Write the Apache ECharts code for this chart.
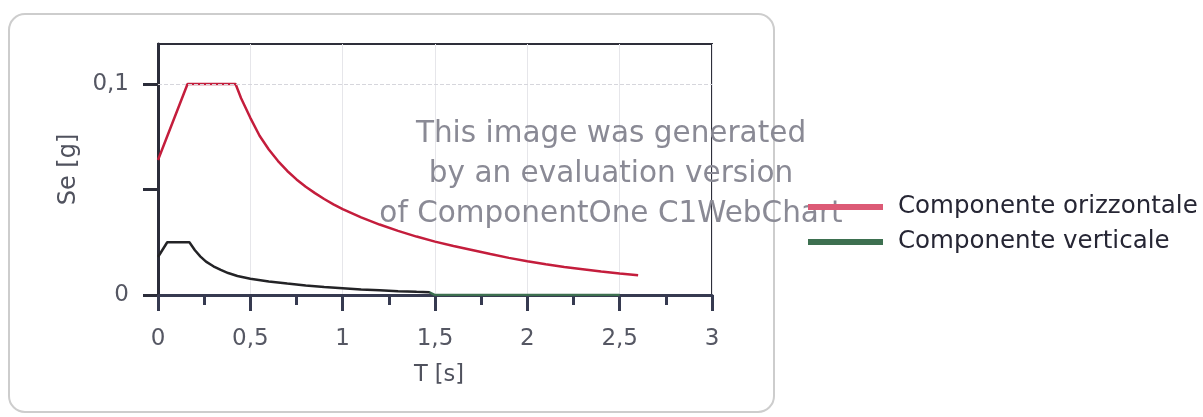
<!DOCTYPE html>
<html>
<head>
<meta charset="utf-8">
<title>Spettro di risposta elastico</title>
<script src="https://cdn.jsdelivr.net/npm/echarts@6/dist/echarts.min.js"></script>
<style>
  html, body { margin: 0; padding: 0; background: #ffffff; }
  #chart { width: 1203px; height: 417px; }
</style>
</head>
<body>
<div id="chart"></div>
<script>
// Elastic response spectrum, horizontal component: period T [s] and Se [g]
const periodsH = [0, 0.16, 0.42, 0.45, 0.5, 0.55, 0.6, 0.65, 0.7, 0.75, 0.8, 0.85, 0.9, 0.95,
                  1.0, 1.1, 1.2, 1.3, 1.4, 1.5, 1.6, 1.7, 1.8, 1.9, 2.0, 2.1, 2.2, 2.3,
                  2.4, 2.5, 2.6];
const seH = [0.064, 0.1, 0.1, 0.0933, 0.0840, 0.0755, 0.0690, 0.0635, 0.0588, 0.0548, 0.0513,
             0.0483, 0.0455, 0.0430, 0.0407, 0.0368, 0.0334, 0.0304, 0.0277, 0.0253, 0.0232,
             0.0213, 0.0194, 0.0176, 0.0160, 0.0146, 0.0133, 0.0122, 0.0111, 0.0102, 0.0094];

// Vertical component
const periodsV = [0, 0.05, 0.17, 0.2, 0.23, 0.26, 0.3, 0.34, 0.38, 0.43, 0.5, 0.6, 0.7,
                  0.8, 0.9, 1.0, 1.1, 1.2, 1.3, 1.4, 1.47, 1.5, 2.0, 2.5];
const seV = [0.018, 0.025, 0.025, 0.0212, 0.0182, 0.0158, 0.0136, 0.0119, 0.0104, 0.0090,
             0.0077, 0.0064, 0.0054, 0.0045, 0.0038, 0.0032, 0.0026, 0.0022, 0.0018,
             0.0015, 0.0013, 0, 0, 0];

const seriesNames = ['Componente orizzontale', 'Componente verticale'];
const xTicks = [0, 0.5, 1, 1.5, 2, 2.5, 3];
const yLabelValues = [0, 0.1];
const yTickValues = [0, 0.05, 0.1];
const watermarkLines = ['This image was generated', 'by an evaluation version', 'of ComponentOne C1WebChart'];

const FONT = 'DejaVu Sans';
const fmtComma = v => String(v).replace('.', ',');

const chart = echarts.init(document.getElementById('chart'), null, { renderer: 'canvas' });

const pairs = (xs, ys) => xs.map((x, i) => [x, ys[i]]);

const option = {
  animation: false,
  backgroundColor: '#ffffff',
  graphic: [
    {
      type: 'rect',
      z: -10,
      shape: { x: 9, y: 14, width: 765, height: 398, r: 16 },
      style: { fill: '#ffffff', stroke: '#cdcdcd', lineWidth: 2 }
    },
    {
      type: 'text',
      z: 1,
      x: 611,
      y: 174,
      style: {
        text: watermarkLines.join('\n'),
        font: '29.5px "' + FONT + '"',
        fill: '#8a8a95',
        align: 'center',
        verticalAlign: 'middle',
        lineHeight: 40
      }
    }
  ],
  grid: {
    left: 158, right: 491, top: 44, bottom: 122,
    show: true,
    borderColor: '#2e2f3a',
    borderWidth: 2,
    backgroundColor: 'transparent'
  },
  legend: {
    orient: 'vertical',
    left: 803,
    top: 189,
    icon: 'rect',
    itemWidth: 75,
    itemHeight: 6,
    itemGap: 9,
    textStyle: {
      fontFamily: FONT,
      fontSize: 24.5,
      lineHeight: 26,
      color: '#262634',
      padding: [0, 0, 0, 10]
    },
    data: [
      { name: seriesNames[0], itemStyle: { color: '#dc5a76' } },
      { name: seriesNames[1], itemStyle: { color: '#3d7050' } }
    ]
  },
  xAxis: {
    type: 'value',
    min: 0,
    max: 3,
    interval: 0.5,
    name: 'T [s]',
    nameLocation: 'middle',
    nameGap: 69,
    nameTextStyle: { fontFamily: FONT, fontSize: 22.5, color: '#50525e', padding: [0, 0, 0, 8] },
    axisLine: { show: true, onZero: false, lineStyle: { color: '#363a50', width: 3 } },
    axisTick: { show: true, length: 16, lineStyle: { color: '#363a50', width: 3 } },
    minorTick: { show: true, splitNumber: 2, length: 10, lineStyle: { color: '#363a50', width: 3 } },
    axisLabel: {
      margin: 33,
      fontFamily: FONT,
      fontSize: 23,
      color: '#555763',
      customValues: xTicks,
      formatter: v => fmtComma(v)
    },
    splitLine: { show: true, lineStyle: { color: '#e6e6ea', width: 1 } }
  },
  yAxis: {
    type: 'value',
    min: 0,
    max: 0.119,
    interval: 0.05,
    name: 'Se [g]',
    nameLocation: 'middle',
    nameRotate: 90,
    nameGap: 77,
    nameTextStyle: { fontFamily: FONT, fontSize: 24, color: '#50525e' },
    axisLine: { show: true, lineStyle: { color: '#2b2d3a', width: 3 } },
    axisTick: { show: true, length: 15, customValues: yTickValues, lineStyle: { color: '#2b2d3a', width: 3 } },
    axisLabel: {
      margin: 29,
      fontFamily: FONT,
      fontSize: 23,
      color: '#555763',
      customValues: yLabelValues,
      formatter: v => (yLabelValues.some(t => Math.abs(t - v) < 1e-9) ? fmtComma(v) : '')
    },
    splitLine: { show: false }
  },
  series: [
    {
      name: seriesNames[0],
      type: 'line',
      data: pairs(periodsH, seH),
      showSymbol: false,
      z: 3,
      itemStyle: { color: '#dc5a76' },
      lineStyle: { color: '#c41d3c', width: 2.5 },
      markLine: {
        silent: true,
        symbol: 'none',
        label: { show: false },
        lineStyle: { color: '#d6d6dc', type: 'dashed', width: 1 },
        data: [{ yAxis: 0.1 }]
      }
    },
    {
      name: seriesNames[1],
      type: 'line',
      data: pairs(periodsV, seV),
      showSymbol: false,
      z: 4,
      itemStyle: { color: '#3d7050' },
      lineStyle: {
        width: 2.5,
        color: new echarts.graphic.LinearGradient(0, 0, 1, 0, [
          { offset: 0, color: '#232326' },
          { offset: 0.585, color: '#232326' },
          { offset: 0.59, color: '#3d7050' },
          { offset: 1, color: '#3d7050' }
        ])
      }
    }
  ]
};

chart.setOption(option);
</script>
</body>
</html>
